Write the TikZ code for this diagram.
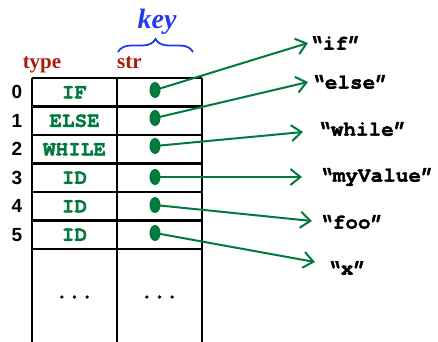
\documentclass[tikz,border=0pt]{standalone}
\usepackage{fontspec}
\setmainfont{Liberation Serif}
\setmonofont{TeX Gyre Cursor}[BoldFeatures={FakeBold=1.6}]
\newfontfamily\idxfont{Liberation Sans}
\usetikzlibrary{arrows.meta,decorations.pathreplacing,shapes.geometric}
\definecolor{cgreen}{RGB}{0,122,61}
\definecolor{cred}{RGB}{168,28,8}
\definecolor{cblue}{RGB}{35,60,235}
\begin{document}
\begin{tikzpicture}[x=1pt,y=-1pt,
  cell/.style={minimum width=85pt,minimum height=28.5pt,inner sep=0pt,
    font=\fontsize{21}{21}\selectfont\ttfamily\bfseries,text=cgreen},
  grid/.style={draw=black,line width=2.6pt},
  idx/.style={font=\fontsize{19}{19}\selectfont\idxfont\bfseries},
  dotn/.style={ellipse,fill=cgreen,minimum width=11pt,minimum height=16pt,inner sep=0pt},
  strl/.style={anchor=west,inner sep=0pt,font=\fontsize{21}{21}\selectfont\ttfamily\bfseries},
  ptr/.style={cgreen,line width=2pt,-{Straight Barb[length=10pt,width=16pt,line width=2pt]}},
  hdr/.style={text=cred,font=\fontsize{21}{21}\selectfont\bfseries,inner sep=0pt}
]
\useasboundingbox (0,0) rectangle (438,341);
% table grid
\foreach \y in {78,106.5,135,163.5,192,220.5,249}{ \draw[grid] (32,\y) -- (202,\y); }
\foreach \x in {32,117,202}{ \draw[grid] (\x,78) -- (\x,345); }
% table cells
\foreach \i/\t/\y in {0/IF/92.25,1/ELSE/120.75,2/WHILE/149.25,3/ID/177.75,4/ID/206.25,5/ID/234.75}{
  \node[cell] (t\i) at (74.5,\y) {\t};
  \node[cell] (s\i) at (159.5,\y) {};
  \node[idx] (n\i) at (17,\y) {\i};
}
\node[font=\fontsize{21}{21}\selectfont\ttfamily\bfseries] (dt) at (74.5,297) {...};
\node[font=\fontsize{21}{21}\selectfont\ttfamily\bfseries] (ds) at (159.5,297) {...};
% headers
\node[hdr,anchor=base] (htype) at (42,68) {type};
\node[hdr,anchor=base west] (hstr) at (117,68) {str};
\draw[cblue,line width=1.8pt,decorate,decoration={brace,amplitude=13pt}]
  (118,52) -- (193,52);
\node[text=cblue,font=\fontsize{28}{28}\selectfont\bfseries\itshape] (key) at (157,22) {key};
% dots
\node[dotn] (d0) at (155,90) {};
\node[dotn] (d1) at (155,118) {};
\node[dotn] (d2) at (155,146) {};
\node[dotn] (d3) at (155,177) {};
\node[dotn] (d4) at (155,205) {};
\node[dotn] (d5) at (155,233) {};
% strings
\node[strl] (l0) at (310,43) {“if”};
\node[strl] (l1) at (312,82) {“else”};
\node[strl] (l2) at (318,129) {“while”};
\node[strl] (l3) at (320,177) {“myValue”};
\node[strl] (l4) at (320,222) {“foo”};
\node[strl] (l5) at (328,268) {“x”};
\coordinate (a0) at (308,43);
\coordinate (a1) at (308,82);
\coordinate (a2) at (303,132);
\coordinate (a3) at (302,177);
\coordinate (a4) at (312,221);
\coordinate (a5) at (315,262);
\foreach \i in {0,...,5}{ \draw[ptr] (d\i.center) -- (a\i); }
\end{tikzpicture}
\end{document}
